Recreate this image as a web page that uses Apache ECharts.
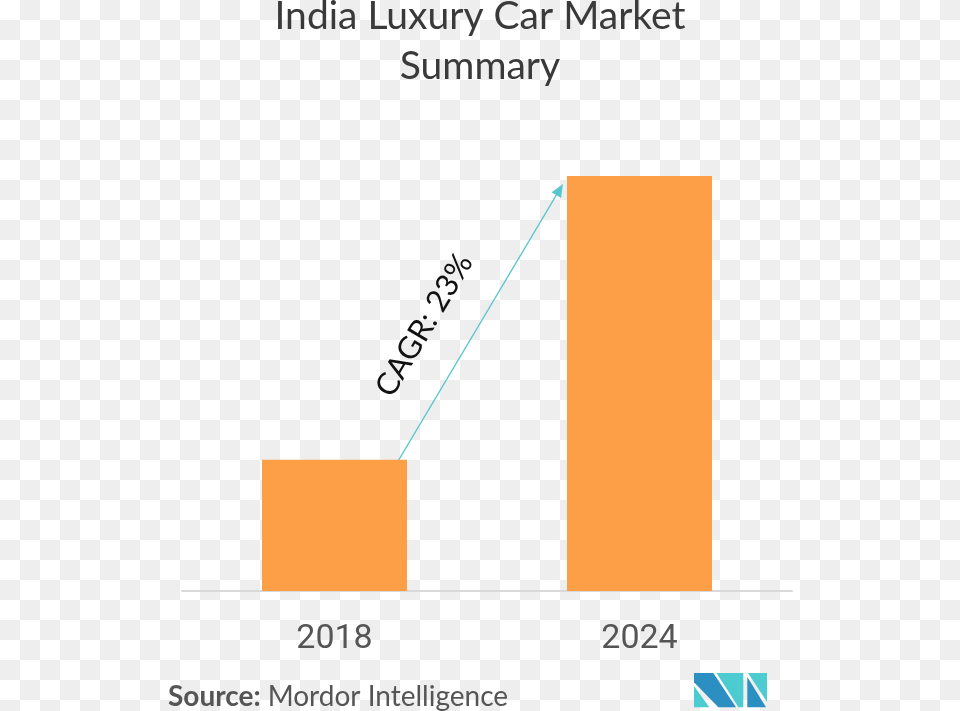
<!DOCTYPE html>
<html><head><meta charset="utf-8">
<script src="https://cdn.jsdelivr.net/npm/echarts@6/dist/echarts.min.js"></script>
<style>
html,body{margin:0;padding:0;width:960px;height:711px;overflow:hidden;
background:repeating-conic-gradient(#eeeeee 0 25%, #ffffff 0 50%) 0 0/40px 40px;}
#c{width:960px;height:711px;}
</style></head><body><div id="c"></div>
<script>
const categories = ['2018', '2024'];
const values = [31.6, 100];
const titleLines = ['India Luxury Car Market', 'Summary'];
const cagrLabel = 'CAGR: 23%';
const sourceLabel = 'Source:';
const sourceName = 'Mordor Intelligence';

const chart = echarts.init(document.getElementById('c'));
const BAR_W = 145;
chart.setOption({
  backgroundColor: 'transparent',
  animation: false,
  title: {
    text: titleLines.join('\n'), left: 'center', top: -14,
    textStyle: { fontFamily: 'Lato', fontWeight: 'normal', fontSize: 39, lineHeight: 50, color: '#3a3a3a' }
  },
  grid: { left: 182, right: 168, top: 176, bottom: 120 },
  xAxis: {
    type: 'category', data: categories,
    axisLine: { lineStyle: { color: '#d9d9d9', width: 2 } },
    axisTick: { show: false },
    axisLabel: { fontFamily: 'Roboto', fontSize: 34, color: '#555555', margin: 31 }
  },
  yAxis: { type: 'value', min: 0, max: 100, show: false, splitLine: { show: false } },
  series: [{ type: 'bar', data: values, barWidth: BAR_W, itemStyle: { color: '#fd9f47' } }]
});

const p0 = chart.convertToPixel({ xAxisIndex: 0, yAxisIndex: 0 }, [categories[0], values[0]]);
const p1 = chart.convertToPixel({ xAxisIndex: 0, yAxisIndex: 0 }, [categories[1], values[1]]);
const start = [p0[0] + BAR_W / 2 - 10, p0[1] + 3];
const end = [p1[0] - BAR_W / 2 - 4, p1[1] + 8];
const dx = end[0] - start[0], dy = end[1] - start[1];
const len = Math.sqrt(dx * dx + dy * dy);
const u = [dx / len, dy / len];
const nL = [u[1], -u[0]];
const headL = 13, headW = 5.5;
const lineEnd = [end[0] - u[0] * (headL - 2), end[1] - u[1] * (headL - 2)];
const b1 = [end[0] - u[0] * headL + nL[0] * headW, end[1] - u[1] * headL + nL[1] * headW];
const b2 = [end[0] - u[0] * headL - nL[0] * headW, end[1] - u[1] * headL - nL[1] * headW];
const mid = [(start[0] + end[0]) / 2, (start[1] + end[1]) / 2];
const tc = [mid[0] - 30 * u[0] + 47 * nL[0], mid[1] - 30 * u[1] + 47 * nL[1]];
const rot = Math.atan2(-u[1], u[0]);
const ARROW = '#5ac7cc';
const DARK = '#2b8fc2', TEAL = '#4ccbd0';

chart.setOption({
  graphic: [
    { type: 'line', shape: { x1: start[0], y1: start[1], x2: lineEnd[0], y2: lineEnd[1] }, style: { stroke: ARROW, lineWidth: 1.3 } },
    { type: 'polygon', shape: { points: [end, b1, b2] }, style: { fill: ARROW } },
    { type: 'text', x: tc[0], y: tc[1], rotation: rot,
      style: { text: cagrLabel, fontFamily: 'Lato', fontWeight: 'normal', fontSize: 31, fill: '#111111', align: 'center', verticalAlign: 'middle' } },
    { type: 'text', x: 168, y: 697,
      style: { text: '{b|' + sourceLabel + '}{r|' + sourceName + '}', verticalAlign: 'middle', align: 'left',
        rich: { b: { fontFamily: 'Lato', fontWeight: 'bold', fontSize: 28, fill: '#555555', color: '#555555', padding: [0, 7, 0, 0] },
                r: { fontFamily: 'Lato', fontWeight: 'normal', fontSize: 28, fill: '#555555', color: '#555555' } } } },
    { type: 'polygon', shape: { points: [[694, 673], [713.3, 673], [736, 707.3], [718.3, 707.3], [694, 682.3]] }, style: { fill: DARK } },
    { type: 'polygon', shape: { points: [[694, 686], [694, 707.3], [709.3, 707.3]] }, style: { fill: TEAL } },
    { type: 'polygon', shape: { points: [[716.5, 673], [743.3, 673], [743.3, 707.3], [738.5, 707.3]] }, style: { fill: TEAL } },
    { type: 'polygon', shape: { points: [[748, 673], [767, 673], [767, 702]] }, style: { fill: TEAL } },
    { type: 'polygon', shape: { points: [[747.3, 677], [747.3, 707.3], [766, 707.3]] }, style: { fill: DARK } }
  ]
});
</script></body></html>
